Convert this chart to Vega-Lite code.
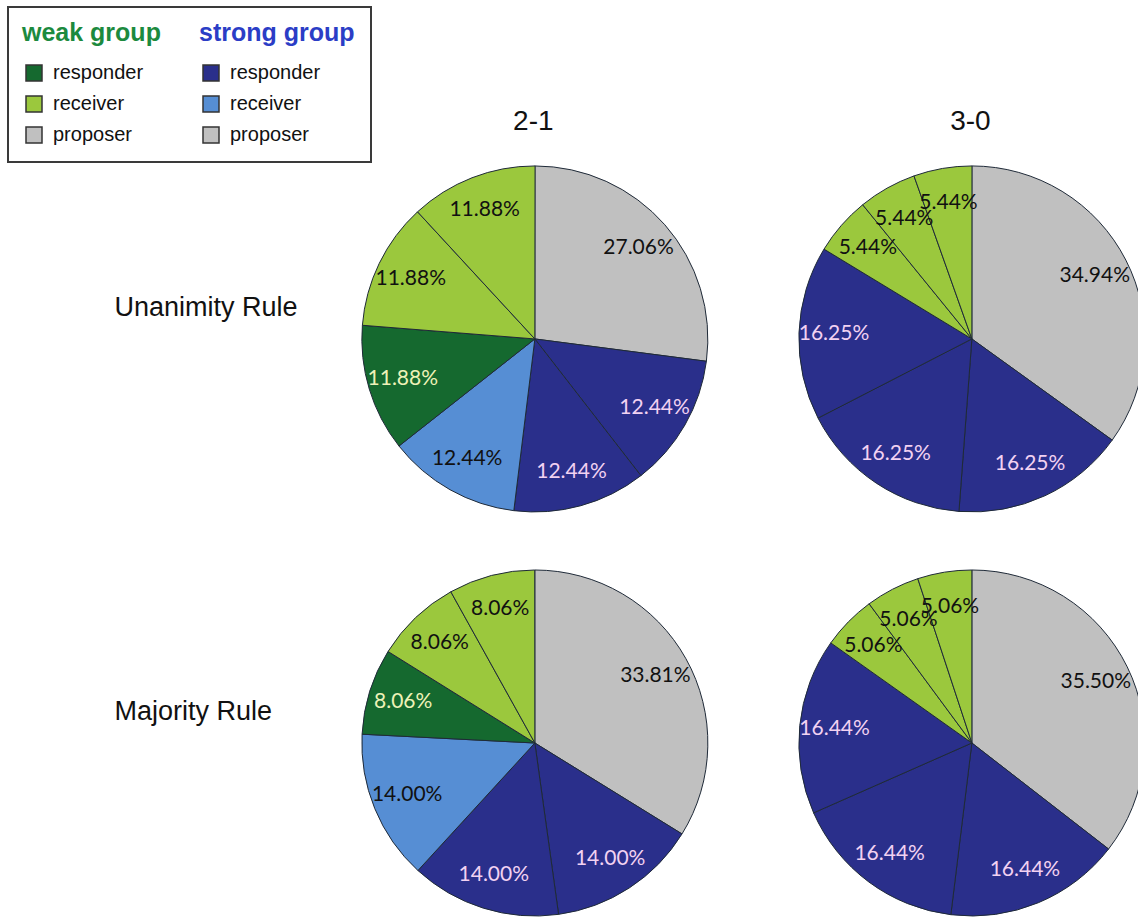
{
  "$schema": "https://vega.github.io/schema/vega-lite/v6.json",
  "width": 1138,
  "height": 918,
  "autosize": {"type": "none"},
  "padding": 0,
  "background": "white",
  "config": {"view": {"stroke": null}},
  "data": {
    "values": [
      {"pie": "U 2-1", "rule": "Unanimity Rule", "split": "2-1", "k": 1, "slice": "proposer", "value": 27.06, "label": "27.06%"},
      {"pie": "U 2-1", "rule": "Unanimity Rule", "split": "2-1", "k": 2, "slice": "strong responder", "value": 12.44, "label": "12.44%"},
      {"pie": "U 2-1", "rule": "Unanimity Rule", "split": "2-1", "k": 3, "slice": "strong responder", "value": 12.44, "label": "12.44%"},
      {"pie": "U 2-1", "rule": "Unanimity Rule", "split": "2-1", "k": 4, "slice": "strong receiver", "value": 12.44, "label": "12.44%"},
      {"pie": "U 2-1", "rule": "Unanimity Rule", "split": "2-1", "k": 5, "slice": "weak responder", "value": 11.88, "label": "11.88%"},
      {"pie": "U 2-1", "rule": "Unanimity Rule", "split": "2-1", "k": 6, "slice": "weak receiver", "value": 11.88, "label": "11.88%"},
      {"pie": "U 2-1", "rule": "Unanimity Rule", "split": "2-1", "k": 7, "slice": "weak receiver", "value": 11.88, "label": "11.88%"},
      {"pie": "U 3-0", "rule": "Unanimity Rule", "split": "3-0", "k": 1, "slice": "proposer", "value": 34.94, "label": "34.94%"},
      {"pie": "U 3-0", "rule": "Unanimity Rule", "split": "3-0", "k": 2, "slice": "strong responder", "value": 16.25, "label": "16.25%"},
      {"pie": "U 3-0", "rule": "Unanimity Rule", "split": "3-0", "k": 3, "slice": "strong responder", "value": 16.25, "label": "16.25%"},
      {"pie": "U 3-0", "rule": "Unanimity Rule", "split": "3-0", "k": 4, "slice": "strong responder", "value": 16.25, "label": "16.25%"},
      {"pie": "U 3-0", "rule": "Unanimity Rule", "split": "3-0", "k": 5, "slice": "weak receiver", "value": 5.44, "label": "5.44%"},
      {"pie": "U 3-0", "rule": "Unanimity Rule", "split": "3-0", "k": 6, "slice": "weak receiver", "value": 5.44, "label": "5.44%"},
      {"pie": "U 3-0", "rule": "Unanimity Rule", "split": "3-0", "k": 7, "slice": "weak receiver", "value": 5.44, "label": "5.44%"},
      {"pie": "M 2-1", "rule": "Majority Rule", "split": "2-1", "k": 1, "slice": "proposer", "value": 33.81, "label": "33.81%"},
      {"pie": "M 2-1", "rule": "Majority Rule", "split": "2-1", "k": 2, "slice": "strong responder", "value": 14.00, "label": "14.00%"},
      {"pie": "M 2-1", "rule": "Majority Rule", "split": "2-1", "k": 3, "slice": "strong responder", "value": 14.00, "label": "14.00%"},
      {"pie": "M 2-1", "rule": "Majority Rule", "split": "2-1", "k": 4, "slice": "strong receiver", "value": 14.00, "label": "14.00%"},
      {"pie": "M 2-1", "rule": "Majority Rule", "split": "2-1", "k": 5, "slice": "weak responder", "value": 8.06, "label": "8.06%"},
      {"pie": "M 2-1", "rule": "Majority Rule", "split": "2-1", "k": 6, "slice": "weak receiver", "value": 8.06, "label": "8.06%"},
      {"pie": "M 2-1", "rule": "Majority Rule", "split": "2-1", "k": 7, "slice": "weak receiver", "value": 8.06, "label": "8.06%"},
      {"pie": "M 3-0", "rule": "Majority Rule", "split": "3-0", "k": 1, "slice": "proposer", "value": 35.50, "label": "35.50%"},
      {"pie": "M 3-0", "rule": "Majority Rule", "split": "3-0", "k": 2, "slice": "strong responder", "value": 16.44, "label": "16.44%"},
      {"pie": "M 3-0", "rule": "Majority Rule", "split": "3-0", "k": 3, "slice": "strong responder", "value": 16.44, "label": "16.44%"},
      {"pie": "M 3-0", "rule": "Majority Rule", "split": "3-0", "k": 4, "slice": "strong responder", "value": 16.44, "label": "16.44%"},
      {"pie": "M 3-0", "rule": "Majority Rule", "split": "3-0", "k": 5, "slice": "weak receiver", "value": 5.06, "label": "5.06%"},
      {"pie": "M 3-0", "rule": "Majority Rule", "split": "3-0", "k": 6, "slice": "weak receiver", "value": 5.06, "label": "5.06%"},
      {"pie": "M 3-0", "rule": "Majority Rule", "split": "3-0", "k": 7, "slice": "weak receiver", "value": 5.06, "label": "5.06%"}
    ]
  },
  "transform": [
    {"stack": "value", "groupby": ["pie"], "sort": [{"field": "k", "order": "ascending"}], "as": ["v0", "v1"]}
  ],
  "encoding": {
    "x": {
      "field": "split", "type": "nominal",
      "scale": {"type": "point", "domain": ["2-1", "3-0"], "padding": 0.802, "align": 0.763},
      "axis": {"orient": "top", "title": null, "domain": false, "ticks": false, "grid": false, "offset": -143, "labelPadding": 8, "labelAngle": 0, "labelOffset": -2, "labelFont": "Liberation Sans", "labelFontSize": 28, "labelColor": "#111111"}
    },
    "y": {
      "field": "rule", "type": "nominal",
      "scale": {"type": "point", "domain": ["Unanimity Rule", "Majority Rule"], "padding": 0.636, "align": 0.6595},
      "axis": {"orient": "left", "title": null, "domain": false, "ticks": false, "grid": false, "offset": -114, "labelPadding": 0, "labelAlign": "left", "labelBaseline": "middle", "labelOffset": -31, "labelLimit": 400, "labelFont": "Liberation Sans", "labelFontSize": 27, "labelColor": "#111111"}
    }
  },
  "layer": [
    {
      "mark": {"type": "arc", "outerRadius": 173, "stroke": "#1f2a38", "strokeWidth": 1},
      "encoding": {
        "theta": {"field": "v0", "type": "quantitative", "stack": null, "scale": {"domain": [0, 100]}},
        "theta2": {"field": "v1"},
        "fill": {
          "field": "slice", "type": "nominal",
          "scale": {
            "domain": ["weak group", "weak responder", "weak receiver", "proposer", "strong group", "strong responder", "strong receiver", "proposer "],
            "range": ["#ffffff", "#15692f", "#9bc83d", "#c0c0c0", "#ffffff", "#2a2f8b", "#568ed4", "#c0c0c0"]
          },
          "legend": {
            "title": null, "orient": "none", "legendX": 8, "legendY": 7,
            "direction": "vertical", "columns": 2, "columnPadding": 38, "rowPadding": 9, "padding": 16,
            "strokeColor": "#3a3a3a", "fillColor": "#ffffff",
            "symbolType": "square", "symbolSize": 256, "symbolStrokeColor": "#333333", "symbolStrokeWidth": 1.5,
            "labelFont": "Liberation Sans", "labelFontSize": 20, "labelColor": "#111111", "labelLimit": 300, "labelOffset": 9,
            "labelExpr": "replace(replace(datum.label, 'weak r', 'r'), 'strong r', 'r')",
            "encode": {
              "symbols": {"update": {
                "opacity": {"signal": "datum.value == 'weak group' || datum.value == 'strong group' ? 0 : 1"},
                "shape": {"signal": "datum.value == 'weak group' || datum.value == 'strong group' ? 'M0,-1L0,2.5' : 'square'"}
              }},
              "labels": {"update": {
                "fontSize": {"signal": "datum.value == 'weak group' || datum.value == 'strong group' ? 25 : 20"},
                "fontWeight": {"signal": "datum.value == 'weak group' || datum.value == 'strong group' ? 'bold' : 'normal'"},
                "fill": {"signal": "datum.value == 'weak group' ? '#1c8a3e' : datum.value == 'strong group' ? '#2b3dc6' : '#111111'"},
                "dx": {"signal": "datum.value == 'weak group' || datum.value == 'strong group' ? -31 : 0"}
              }},
              "legend": {"update": {"strokeWidth": {"value": 2}}}
            }
          }
        }
      }
    },
    {
      "mark": {"type": "text", "font": "Lato", "fontSize": 21},
      "encoding": {
        "theta": {"field": "value", "type": "quantitative", "stack": true, "scale": {"domain": [0, 100]}},
        "radius": {"field": "pie", "type": "nominal", "scale": {"range": [138, 138]}},
        "order": {"field": "k", "type": "quantitative"},
        "text": {"field": "label"},
        "color": {
          "condition": [
            {"test": "datum.slice == 'strong responder'", "value": "#f2d2f2"},
            {"test": "datum.slice == 'weak responder'", "value": "#eef2b8"}
          ],
          "value": "#111111"
        }
      }
    }
  ]
}
